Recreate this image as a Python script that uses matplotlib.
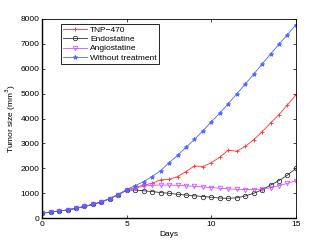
import matplotlib
matplotlib.use("Agg")
from matplotlib import pyplot as plt

days = [0.5 * i for i in range(31)]

common = [200, 250, 290, 330, 400, 470, 560, 650, 790, 950, 1130]

tnp470 = common + [1230, 1330, 1400, 1540, 1560, 1670, 1870, 2100, 2070, 2230,
                   2450, 2730, 2690, 2880, 3150, 3470, 3820, 4160, 4550, 4950]
endostatine = common + [1130, 1100, 1070, 1030, 1000, 960, 930, 900, 870, 840,
                        810, 800, 820, 890, 1000, 1140, 1330, 1510, 1730, 2000]
angiostatine = common + [1200, 1290, 1320, 1330, 1330, 1320, 1300, 1280, 1250, 1230,
                         1200, 1180, 1160, 1150, 1150, 1170, 1220, 1310, 1400, 1500]
without_treatment = [200, 250, 290, 330, 400, 470, 560, 650, 790, 950, 1150,
                     1310, 1470, 1670, 1910, 2230, 2520, 2850, 3160, 3510, 3870,
                     4220, 4600, 4990, 5380, 5780, 6190, 6590, 6990, 7370, 7770]

labels = ['TNP\u2212470', 'Endostatine', 'Angiostatine', 'Without treatment']

plt.rcParams['font.family'] = ['Liberation Sans', 'DejaVu Sans']
plt.rcParams['font.size'] = 6

fig = plt.figure(figsize=(3.27, 2.46), dpi=100)
ax = fig.add_axes([0.129, 0.113, 0.776, 0.81])

ax.plot(days, tnp470, color='#ff3030', lw=0.6, marker='+', ms=3.5, mew=0.6, label=labels[0])
ax.plot(days, endostatine, color='#333333', lw=0.6, marker='o', ms=3.2, mew=0.6,
        mfc='none', label=labels[1])
ax.plot(days, angiostatine, color='#cc55ff', lw=0.6, marker='v', ms=3.2, mew=0.6,
        mfc='none', label=labels[2])
ax.plot(days, without_treatment, color='#4a66ff', lw=0.6, marker='*', ms=3.2, mew=0.6,
        label=labels[3])

ax.set_xlim(0, 15)
ax.set_ylim(0, 8000)
ax.set_xticks([0, 5, 10, 15])
ax.set_yticks(range(0, 8001, 1000))
ax.tick_params(direction='in', top=True, right=True, length=2, width=0.5, pad=2)
for s in ax.spines.values():
    s.set_linewidth(0.6)
ax.spines['left'].set_linewidth(1.0)
ax.spines['bottom'].set_linewidth(1.0)

ax.set_xlabel('Days', labelpad=2)
ax.set_ylabel('Tumor size (mm$^3$)', labelpad=2)

leg = ax.legend(loc='upper left', bbox_to_anchor=(0.074, 0.975), fontsize=6,
                frameon=True, fancybox=False, edgecolor='black', framealpha=1,
                handlelength=2.8, borderpad=0.3, labelspacing=0.15, handletextpad=0.4,
                borderaxespad=0)
leg.get_frame().set_linewidth(0.6)

fig.savefig('out.png', dpi=100)
